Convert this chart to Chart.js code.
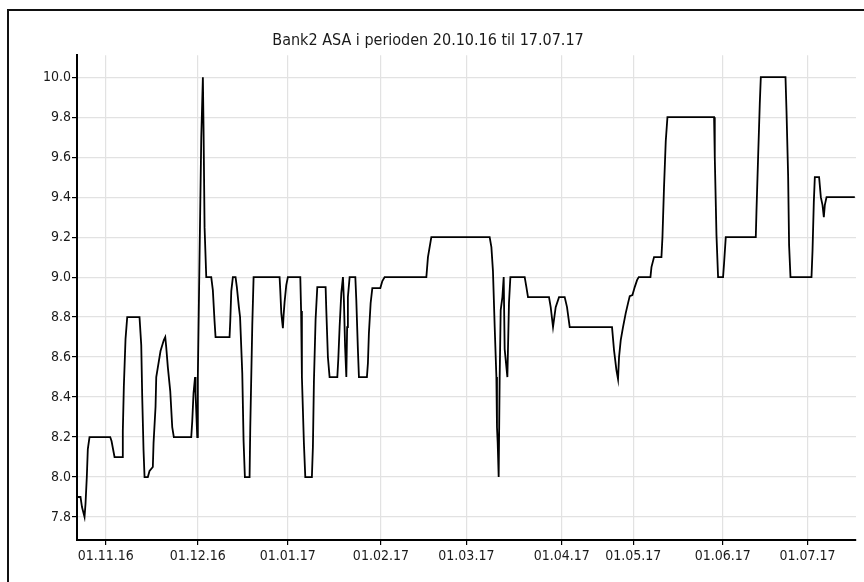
<!DOCTYPE html>
<html>
<head>
<meta charset="utf-8">
<script src="https://cdn.jsdelivr.net/npm/chart.js@4.4.0/dist/chart.umd.min.js"></script>
<style>
  html, body { margin: 0; padding: 0; background: #fff; }
  canvas { display: block; }
</style>
</head>
<body>
<canvas id="kurs" width="864" height="582"></canvas>
<script>
// handelsdag regnet fra 20.10.16 (kan vaere brok, flere handler samme dag)
const dager = [
  0.2, 0.83, 1.18, 1.78, 2.01, 2.32, 2.56, 2.96, 7.86, 8.17, 8.88, 10.70, 10.84, 11.08, 11.48, 11.88,
  14.79, 15.20, 15.43, 15.74, 15.98, 16.76, 17.16, 17.94, 18.11, 18.58, 18.75, 19.29, 19.76, 20.54,
  20.88, 21.11, 21.49, 22.06, 22.53, 22.91, 27.03, 27.27, 27.57, 27.93, 28.05, 28.45, 28.59, 28.99,
  29.40, 29.78, 29.94, 30.18, 30.58, 31.76, 32.14, 32.54, 32.78, 36.09, 36.26, 36.50, 36.88, 37.51,
  37.82, 38.30, 38.58, 39.10, 39.41, 39.72, 40.83, 40.99, 41.47, 41.78, 47.93, 48.09, 48.33, 48.71,
  48.88, 49.11, 49.51, 49.89, 52.83, 53.02, 53.21, 53.68, 54.01, 55.57, 55.81, 56.05, 56.45, 56.85,
  58.82, 58.98, 59.36, 59.76, 61.59, 61.82, 62.13, 62.53, 62.92, 63.15, 63.43, 63.72, 63.91, 64.09,
  64.50, 65.85, 66.08, 66.46, 66.70, 68.59, 68.83, 69.06, 69.47, 69.87, 71.76, 72.24, 72.78, 82.65,
  83.03, 83.83, 97.63, 98.04, 98.41, 98.82, 99.22, 99.36, 99.53, 99.76, 100.0, 100.24, 100.64, 100.95,
  101.18, 101.82, 102.20, 102.53, 105.92, 106.32, 106.70, 111.67, 112.07, 112.62, 113.25, 114.04,
  115.38, 115.93, 116.57, 126.58, 127.05, 127.62, 128.0, 128.24, 128.64, 129.18, 129.82, 130.37,
  130.77, 131.41, 131.95, 132.50, 132.90, 135.67, 135.91, 136.52, 138.27, 138.51, 138.88, 139.29,
  139.69, 150.72, 150.89, 151.29, 151.67, 152.85, 153.09, 153.49, 160.59, 160.76, 161.14, 161.54,
  161.78, 167.62, 167.86, 168.24, 168.47, 168.80, 173.77, 174.01, 174.32, 174.56, 175.57, 175.98,
  176.38, 176.69, 176.92, 177.33, 177.70, 184.02
];
const kurs = [
  7.9, 7.9, 7.85, 7.8, 7.865, 8.0, 8.14, 8.2, 8.2, 8.18, 8.1, 8.1, 8.23, 8.45, 8.69, 8.8,
  8.8, 8.66, 8.4, 8.135, 8.0, 8.0, 8.03, 8.05, 8.17, 8.35, 8.5, 8.57, 8.63, 8.685,
  8.7, 8.65, 8.55, 8.43, 8.25, 8.2, 8.2, 8.28, 8.42, 8.5, 8.42, 8.2, 8.5, 9.1,
  9.7, 10.0, 9.745, 9.25, 9.0, 9.0, 8.935, 8.78, 8.7, 8.7, 8.78, 8.93, 9.0, 9.0,
  8.95, 8.85, 8.8, 8.52, 8.18, 8.0, 8.0, 8.245, 8.76, 9.0, 9.0, 8.935, 8.82, 8.745,
  8.81, 8.875, 8.96, 9.0, 9.0, 8.83, 8.5, 8.17, 8.0, 8.0, 8.15, 8.475, 8.79, 8.95,
  8.95, 8.835, 8.6, 8.5, 8.5, 8.59, 8.75, 8.92, 9.0, 8.88, 8.65, 8.5, 8.75, 8.9,
  9.0, 9.0, 8.885, 8.635, 8.5, 8.5, 8.57, 8.72, 8.87, 8.945, 8.945, 8.98, 9.0, 9.0,
  9.1, 9.2, 9.2, 9.15, 9.03, 8.75, 8.5, 8.25, 8.17, 8.0, 8.5, 8.835, 8.9, 9.0,
  8.64, 8.5, 8.87, 9.0, 9.0, 8.95, 8.9, 8.9, 8.85, 8.75, 8.85, 8.9,
  8.9, 8.85, 8.75, 8.75, 8.635, 8.535, 8.49, 8.6, 8.685, 8.75, 8.82, 8.87,
  8.905, 8.91, 8.95, 8.985, 9.0, 9.0, 9.05, 9.1, 9.1, 9.2, 9.45, 9.68,
  9.8, 9.8, 9.6, 9.21, 9.0, 9.0, 9.07, 9.2, 9.2, 9.335, 9.6, 9.87,
  10.0, 10.0, 9.83, 9.51, 9.16, 9.0, 9.0, 9.13, 9.375, 9.5, 9.5, 9.4,
  9.36, 9.3, 9.36, 9.4, 9.4, 9.4
];
const yTicks = [7.8, 8.0, 8.2, 8.4, 8.6, 8.8, 9.0, 9.2, 9.4, 9.6, 9.8, 10.0];
const xTickDager = [6.82, 28.59, 49.87, 71.9, 92.12, 114.67, 131.62, 152.76, 172.83];
const xTickTekst = ['01.11.16', '01.12.16', '01.01.17', '01.02.17', '01.03.17',
                    '01.04.17', '01.05.17', '01.06.17', '01.07.17'];

Chart.defaults.font.family = "'Liberation Sans Narrow', 'DejaVu Sans Condensed', 'Liberation Sans', sans-serif";
Chart.defaults.color = '#1a1a1a';

// ramme rundt grafen
const ramme = {
  id: 'ramme',
  beforeDraw(chart) {
    const c = chart.ctx;
    c.save();
    c.fillStyle = '#fff';
    c.fillRect(0, 0, chart.width, chart.height);
    c.strokeStyle = '#111';
    c.lineWidth = 2;
    c.beginPath();
    c.moveTo(8, chart.height);
    c.lineTo(8, 10);
    c.lineTo(chart.width, 10);
    c.stroke();
    c.restore();
  }
};

const ctx = document.getElementById('kurs').getContext('2d');
new Chart(ctx, {
  type: 'line',
  data: {
    datasets: [{
      data: dager.map((d, i) => ({ x: d, y: kurs[i] })),
      borderColor: '#000',
      borderWidth: 1.8,
      pointRadius: 0,
      tension: 0,
      fill: false
    }]
  },
  options: {
    responsive: false,
    animation: false,
    devicePixelRatio: 1,
    layout: { padding: { left: 0, right: 8, top: 0, bottom: 0 } },
    plugins: {
      legend: { display: false },
      tooltip: { enabled: false },
      title: {
        display: true,
        text: 'Bank2 ASA i perioden 20.10.16 til 17.07.17',
        color: '#1a1a1a',
        font: { size: 16, weight: 'normal' },
        padding: { top: 31, bottom: 5 }
      }
    },
    scales: {
      x: {
        type: 'linear',
        min: 0,
        max: 184.3,
        afterBuildTicks: s => { s.ticks = xTickDager.map(v => ({ value: v })); },
        afterFit: s => { s.height = 42; },
        ticks: {
          callback: (v, i) => xTickTekst[i],
          autoSkip: false,
          maxRotation: 0,
          font: { size: 14 },
          padding: 3
        },
        grid: { color: '#e2e2e2', lineWidth: 1.2, tickColor: '#000', tickLength: 5 },
        border: { color: '#000', width: 2 }
      },
      y: {
        min: 7.685,
        max: 10.11,
        afterBuildTicks: s => { s.ticks = yTicks.map(v => ({ value: v })); },
        afterFit: s => { s.width = 77; },
        ticks: {
          callback: v => v.toFixed(1),
          font: { size: 14 },
          padding: 1
        },
        grid: { color: '#e2e2e2', lineWidth: 1.2, tickColor: '#000', tickLength: 5 },
        border: { color: '#000', width: 2 }
      }
    }
  },
  plugins: [ramme]
});
</script>
</body>
</html>
